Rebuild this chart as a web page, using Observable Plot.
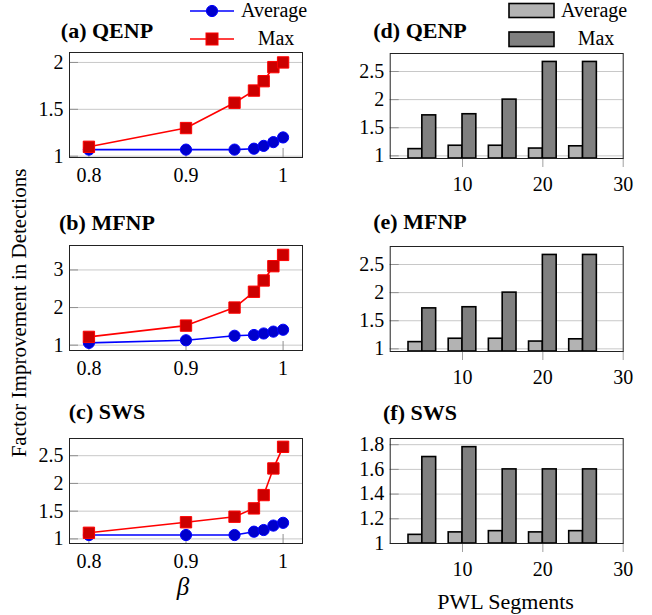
<!DOCTYPE html>
<html>
<head>
<meta charset="utf-8">
<script src="https://cdn.jsdelivr.net/npm/d3@7"></script>
<script src="https://cdn.jsdelivr.net/npm/@observablehq/plot@0.6"></script>
<style>
  html, body { margin: 0; padding: 0; background: #fff; }
  #root { position: relative; width: 652px; height: 615px; overflow: hidden; background: #fff; font-family: "Liberation Serif", serif; }
  #root > svg { position: absolute; overflow: visible; }
  #root > svg, #root > svg text { font-family: "Liberation Serif", serif !important; font-variant: normal !important; font-variant-numeric: normal !important; }
  #overlay { position: absolute; left: 0; top: 0; pointer-events: none; }
</style>
</head>
<body>
<div id="root"></div>
<script>
// ---- data ----
const betas = [0.8, 0.9, 0.95, 0.97, 0.98, 0.99, 1.0];
const qenpAvg = [1.07, 1.07, 1.07, 1.08, 1.11, 1.15, 1.20];
const qenpMax = [1.10, 1.30, 1.57, 1.70, 1.80, 1.95, 2.00];
const mfnpAvg = [1.06, 1.13, 1.25, 1.27, 1.31, 1.36, 1.41];
const mfnpMax = [1.22, 1.52, 2.00, 2.42, 2.72, 3.10, 3.40];
const swsAvg = [1.07, 1.07, 1.07, 1.13, 1.16, 1.24, 1.29];
const swsMax = [1.11, 1.30, 1.40, 1.55, 1.79, 2.27, 2.66];

const segments = [5, 10, 15, 20, 25];
const qenpSegAvg = [1.12, 1.18, 1.18, 1.13, 1.17];
const qenpSegMax = [1.72, 1.74, 2.00, 2.67, 2.67];
const mfnpSegAvg = [1.12, 1.18, 1.18, 1.13, 1.17];
const mfnpSegMax = [1.72, 1.74, 2.00, 2.67, 2.67];
const swsSegAvg = [1.07, 1.09, 1.10, 1.09, 1.10];
const swsSegMax = [1.70, 1.78, 1.60, 1.60, 1.60];

const seriesNames = ["Average", "Max"];
const titles = ["(a) QENP", "(b) MFNP", "(c) SWS", "(d) QENP", "(e) MFNP", "(f) SWS"];
const betaTicks = [0.8, 0.9, 1];
const segTicks = [10, 20, 30];

// ---- layout ----
const root = document.getElementById("root");
const FONT = "Liberation Serif";
const FH = 105; // frame height
const MT = 10, MB = 42;
const fmt = d => String(d);
const txt = {fontFamily: FONT, fontSize: 20, fill: "black", label: null};

function baseStyle() {
  return {fontFamily: FONT, fontSize: "20px", color: "black", background: "transparent", overflow: "visible"};
}

function linePanel({avg, max, yDomain, yTicks, frameTop}) {
  const avgData = betas.map((b, i) => ({beta: b, v: avg[i], s: seriesNames[0]}));
  const maxData = betas.map((b, i) => ({beta: b, v: max[i], s: seriesNames[1]}));
  const svg = Plot.plot({
    width: 320, height: FH + MT + MB,
    marginLeft: 69, marginRight: 18, marginTop: MT, marginBottom: MB,
    style: baseStyle(),
    x: {domain: [0.78, 1.02]},
    y: {domain: yDomain},
    marks: [
      Plot.gridY(yTicks, {stroke: "#c8c8c8", strokeOpacity: 1}),
      Plot.axisY(yTicks, {tickSize: -9, stroke: "#909090", tickFormat: () => "", label: null}),
      Plot.axisY(yTicks, {tickSize: 0, tickPadding: 6, tickFormat: fmt, ...txt}),
      Plot.axisX(betaTicks, {tickSize: -9, stroke: "#909090", tickFormat: () => "", label: null}),
      Plot.axisX(betaTicks, {tickSize: 0, tickPadding: 10, tickFormat: fmt, ...txt}),
      Plot.line(avgData, {x: "beta", y: "v", stroke: "#0000ff", strokeWidth: 1.6}),
      Plot.dot(avgData, {x: "beta", y: "v", r: 5.6, symbol: "circle", fill: "#0000cc", stroke: "#0000ff", strokeWidth: 1}),
      Plot.line(maxData, {x: "beta", y: "v", stroke: "#ff0000", strokeWidth: 1.6}),
      Plot.dot(maxData, {x: "beta", y: "v", r: 6.4, symbol: "square", fill: "#cc0000", stroke: "#ff0000", strokeWidth: 1}),
      Plot.frame({stroke: "#222", strokeWidth: 1})
    ]
  });
  svg.classList.add("panel");
  svg.style.left = "0px";
  svg.style.top = (frameTop - MT) + "px";
  root.appendChild(svg);
}

function barPanel({avg, max, yDomain, yTicks, frameTop}) {
  const bw = 1.72;
  const avgData = segments.map((s, i) => ({seg: s, v: avg[i]}));
  const maxData = segments.map((s, i) => ({seg: s, v: max[i]}));
  const svg = Plot.plot({
    width: 322, height: FH + MT + MB,
    marginLeft: 59.7, marginRight: 29.3, marginTop: MT, marginBottom: MB,
    style: baseStyle(),
    x: {domain: [1, 30]},
    y: {domain: yDomain},
    marks: [
      Plot.gridY(yTicks, {stroke: "#c8c8c8", strokeOpacity: 1}),
      Plot.axisY(yTicks, {tickSize: -9, stroke: "#909090", tickFormat: () => "", label: null}),
      Plot.axisY(yTicks, {tickSize: 0, tickPadding: 6, tickFormat: fmt, ...txt}),
      Plot.axisX(segTicks, {tickSize: 9, stroke: "#a0a0a0", tickPadding: 9, tickFormat: fmt, ...txt}),
      Plot.rectY(avgData, {x1: d => d.seg - bw, x2: d => d.seg, y1: yDomain[0], y2: "v", fill: "#b3b3b3", stroke: "black", strokeWidth: 1.6}),
      Plot.rectY(maxData, {x1: d => d.seg, x2: d => d.seg + bw, y1: yDomain[0], y2: "v", fill: "#808080", stroke: "black", strokeWidth: 1.6}),
      Plot.frame({stroke: "#222", strokeWidth: 1})
    ]
  });
  svg.classList.add("panel");
  svg.style.left = "330px";
  svg.style.top = (frameTop - MT) + "px";
  root.appendChild(svg);
}

linePanel({avg: qenpAvg, max: qenpMax, yDomain: [0.986, 2.106], yTicks: [1, 1.5, 2], frameTop: 52});
linePanel({avg: mfnpAvg, max: mfnpMax, yDomain: [0.858, 3.65], yTicks: [1, 2, 3], frameTop: 245});
linePanel({avg: swsAvg, max: swsMax, yDomain: [0.917, 2.81], yTicks: [1, 1.5, 2, 2.5], frameTop: 437.5});

barPanel({avg: qenpSegAvg, max: qenpSegMax, yDomain: [0.953, 2.82], yTicks: [1, 1.5, 2, 2.5], frameTop: 53.3});
barPanel({avg: mfnpSegAvg, max: mfnpSegMax, yDomain: [0.953, 2.82], yTicks: [1, 1.5, 2, 2.5], frameTop: 245.5});
barPanel({avg: swsSegAvg, max: swsSegMax, yDomain: [1, 1.85], yTicks: [1, 1.2, 1.4, 1.6, 1.8], frameTop: 437.7});

// ---- overlay: titles, axis labels, legends ----
const ns = "http://www.w3.org/2000/svg";
const ov = document.createElementNS(ns, "svg");
ov.setAttribute("id", "overlay");
ov.setAttribute("width", 652);
ov.setAttribute("height", 615);
root.appendChild(ov);
function el(tag, attrs, text) {
  const e = document.createElementNS(ns, tag);
  for (const k in attrs) e.setAttribute(k, attrs[k]);
  if (text != null) e.textContent = text;
  ov.appendChild(e);
  return e;
}
const titlePos = [[107, 37.5], [107, 229.5], [107, 419], [420, 38], [420, 229], [420, 420]];
titles.forEach((t, i) => el("text", {x: titlePos[i][0], y: titlePos[i][1], "text-anchor": "middle", "font-family": FONT, "font-size": 22, "font-weight": "bold"}, t));

el("text", {transform: "translate(26,313) rotate(-90)", "text-anchor": "middle", "font-family": FONT, "font-size": 21}, "Factor Improvement in Detections");
el("text", {x: 183, y: 595, "text-anchor": "middle", "font-family": FONT, "font-size": 25, "font-style": "italic"}, "β");
el("text", {x: 505.5, y: 609, "text-anchor": "middle", "font-family": FONT, "font-size": 22}, "PWL Segments");

// left legend
el("line", {x1: 190, x2: 234, y1: 11, y2: 11, stroke: "#0000ff", "stroke-width": 1.6});
el("circle", {cx: 212, cy: 11, r: 5.6, fill: "#0000cc", stroke: "#0000ff"});
el("text", {x: 241, y: 17, "font-family": FONT, "font-size": 20}, seriesNames[0]);
el("line", {x1: 190, x2: 234, y1: 39, y2: 39, stroke: "#ff0000", "stroke-width": 1.6});
el("rect", {x: 206, y: 33, width: 12, height: 12, fill: "#cc0000", stroke: "#ff0000"});
el("text", {x: 276, y: 45, "text-anchor": "middle", "font-family": FONT, "font-size": 20}, seriesNames[1]);

// right legend
el("rect", {x: 509, y: 3.5, width: 45, height: 14, fill: "#b3b3b3", stroke: "black", "stroke-width": 1.6});
el("text", {x: 561, y: 17, "font-family": FONT, "font-size": 20}, seriesNames[0]);
el("rect", {x: 509, y: 32, width: 45, height: 14.5, fill: "#808080", stroke: "black", "stroke-width": 1.6});
el("text", {x: 596, y: 45, "text-anchor": "middle", "font-family": FONT, "font-size": 20}, seriesNames[1]);
</script>
</body>
</html>
